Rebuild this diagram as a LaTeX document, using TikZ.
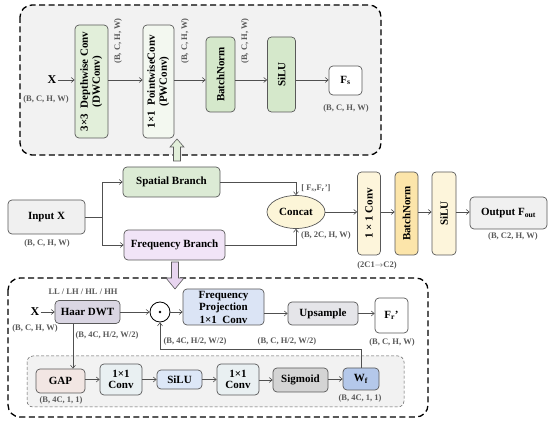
\documentclass[tikz,border=0pt]{standalone}
\usepackage{fontspec}
\usepackage{graphicx}
\setmainfont{Liberation Serif}
\usetikzlibrary{arrows.meta,shapes.geometric,calc}
\definecolor{bdr}{HTML}{595959}
\definecolor{arrc}{HTML}{505050}
\definecolor{lblc}{HTML}{595959}
\definecolor{topbg}{HTML}{F2F2F2}
\definecolor{dwc}{HTML}{E2EFDA}
\definecolor{pwc}{HTML}{F3F8F0}
\definecolor{grn}{HTML}{D5E8CB}
\definecolor{grayc}{HTML}{F0F0F0}
\definecolor{sbc}{HTML}{DCEBD5}
\definecolor{fbc}{HTML}{F1E4F7}
\definecolor{concatc}{HTML}{FCF5D8}
\definecolor{ylw}{HTML}{FDF5DB}
\definecolor{ylwd}{HTML}{FCE5AA}
\definecolor{haarc}{HTML}{DAD6E3}
\definecolor{fpc}{HTML}{DBE4F5}
\definecolor{upc}{HTML}{E5E5E9}
\definecolor{gapc}{HTML}{F2E6E3}
\definecolor{convc}{HTML}{E9F0F2}
\definecolor{siluc}{HTML}{DDE7F7}
\definecolor{sigc}{HTML}{D4D4D4}
\definecolor{wfc}{HTML}{B4C8EA}
\definecolor{hgrn}{HTML}{E2EFDA}
\definecolor{hpur}{HTML}{E8D5F0}
\tikzset{
  box/.style={draw=bdr, line width=0.7pt, rounded corners=4pt, inner sep=1pt, align=center,
    font=\fontsize{11}{12}\selectfont\bfseries},
  lbl/.style={font=\fontsize{8.5}{9}\selectfont\bfseries, text=lblc, inner sep=0pt},
  arr/.style={draw=arrc, line width=0.6pt, -{Straight Barb[length=3pt,width=5pt]}},
  ln/.style={draw=arrc, line width=0.6pt},
  bigdash/.style={draw=black, line width=1.3pt, dash pattern=on 6pt off 3.5pt, rounded corners=12pt},
  smalldash/.style={draw=bdr, line width=0.5pt, dash pattern=on 3pt off 2pt, rounded corners=6pt},
  hollow/.style={draw=bdr, line width=0.6pt}
}
\begin{document}
\begin{tikzpicture}[x=1pt,y=-1pt]
\useasboundingbox (0,0) rectangle (550,422);

% ---------- top dashed panel ----------
\draw[bigdash, fill=topbg] (20,5) rectangle (381,155);
\node[font=\fontsize{12}{12}\selectfont\bfseries, inner sep=1pt] (xt) at (52,80) {X};
\node[lbl] (lxt) at (46,99) {(B, C, H, W)};
\node[box, fill=dwc, minimum width=33pt, minimum height=113pt, inner sep=0pt] (dw) at (91.5,81.5)
  {\rotatebox{90}{\begin{tabular}{@{}c@{}}3×3\enspace Depthwise Conv\\(DWConv)\end{tabular}}};
\node[box, fill=pwc, minimum width=31pt, minimum height=113pt, inner sep=0pt] (pw) at (158.5,81.5)
  {\rotatebox{90}{\begin{tabular}{@{}c@{}}1×1\enspace PointwiseConv\\(PWConv)\end{tabular}}};
\node[box, fill=grn, minimum width=29pt, minimum height=75pt, inner sep=0pt] (bn1) at (220.5,74.5)
  {\rotatebox{90}{BatchNorm}};
\node[box, fill=grn, minimum width=28pt, minimum height=75pt, inner sep=0pt] (si1) at (281.5,74.5)
  {\rotatebox{90}{SiLU}};
\node[box, fill=white, minimum width=33pt, minimum height=29pt] (fs) at (345.5,80.5) {F\textsubscript{s}};
\node[lbl] (lfs) at (346,108) {(B, C, H, W)};
\node[lbl] (r1) at (118,41) {\rotatebox{90}{(B, C, H, W)}};
\node[lbl] (r2) at (185,41) {\rotatebox{90}{(B, C, H, W)}};
\node[lbl] (r3) at (245,41) {\rotatebox{90}{(B, C, H, W)}};
\draw[arr] (xt.east) -- (xt.east -| dw.west);
\draw[arr] (dw.east |- xt.east) -- (pw.west |- xt.east);
\draw[arr] (pw.east |- xt.east) -- (bn1.west |- xt.east);
\draw[arr] (bn1.east |- xt.east) -- (si1.west |- xt.east);
\draw[arr] (si1.east |- xt.east) -- (fs.west |- xt.east);
% hollow up arrow
\draw[hollow, fill=hgrn] (173.5,161) -- (173.5,147) -- (170,147) -- (177,139) -- (184,147) -- (180.5,147) -- (180.5,161) -- cycle;

% ---------- middle row ----------
\node[box, fill=grayc, minimum width=77pt, minimum height=34pt] (inp) at (46.5,217) {Input X};
\node[lbl] (linp) at (47,243) {(B, C, H, W)};
\node[box, fill=sbc, minimum width=97pt, minimum height=30pt] (sb) at (171.5,182) {Spatial Branch};
\node[box, fill=fbc, minimum width=101pt, minimum height=30pt] (fb) at (174.5,245) {Frequency Branch};
\coordinate (split) at (102,217);
\draw[ln] (inp.east) -- (split);
\draw[arr] (split) |- (sb.west);
\draw[arr] (split) |- (fb.west);
\node[ellipse, draw=bdr, line width=0.7pt, fill=concatc, minimum width=58pt, minimum height=33pt, inner sep=0pt,
  font=\fontsize{11}{12}\selectfont\bfseries] (concat) at (296,212) {Concat};
\draw[arr] (sb.east) -| (concat.north);
\draw[arr] (fb.east) -| (concat.south);
\node[lbl] (lcat1) at (316,188) {[ F\textsubscript{s},F\textsubscript{r}']};
\node[lbl] (lcat2) at (326,235) {(B, 2C, H, W)};
\node[box, fill=ylw, minimum width=23pt, minimum height=83pt, inner sep=0pt] (c11) at (369,213.5) {\rotatebox{90}{1 × 1 Conv}};
\node[box, fill=ylwd, minimum width=23pt, minimum height=83pt, inner sep=0pt] (bn2) at (406.5,213.5) {\rotatebox{90}{BatchNorm}};
\node[box, fill=ylw, minimum width=24pt, minimum height=83pt, inner sep=0pt] (si2) at (444,213.5) {\rotatebox{90}{SiLU}};
\node[box, fill=grayc, minimum width=77pt, minimum height=32pt] (out) at (508.5,213) {Output F\textsubscript{out}};
\node[lbl] (lc11) at (377,265) {(2C1$\rightarrow$C2)};
\node[lbl] (lout) at (513,236) {(B, C2, H, W)};
\draw[arr] (concat.east) -- (concat.east -| c11.west);
\draw[arr] (c11.east |- concat.east) -- (bn2.west |- concat.east);
\draw[arr] (bn2.east |- concat.east) -- (si2.west |- concat.east);
\draw[arr] (si2.east |- concat.east) -- (out.west |- concat.east);

% ---------- bottom dashed panel ----------
\draw[bigdash, fill=white] (8,278) rectangle (428,417);
\draw[hollow, fill=hpur] (171.5,262) -- (171.5,278) -- (166,278) -- (175,289) -- (184,278) -- (178.5,278) -- (178.5,262) -- cycle;
\node[lbl] (lll) at (83,292) {LL / LH / HL / HH};
\node[font=\fontsize{12}{12}\selectfont\bfseries, inner sep=1pt] (xb) at (35,312) {X};
\node[box, fill=haarc, minimum width=65pt, minimum height=23pt] (haar) at (87.5,312) {Haar DWT};
\node[lbl] (lxb) at (35,328) {(B, C, H, W)};
\node[lbl] (lhaar) at (107,335) {(B, 4C, H/2, W/2)};
\node[circle, draw=black, line width=0.8pt, fill=white, minimum size=20pt, inner sep=0pt] (od) at (160,312) {};
\fill (od.center) circle (1.4pt);
\node[box, fill=fpc, minimum width=81pt, minimum height=36pt, font=\fontsize{11}{12.5}\selectfont\bfseries] (fp) at (223.5,307)
  {Frequency\\Projection\\1×1\enspace Conv};
\node[box, fill=upc, minimum width=70pt, minimum height=23pt] (up) at (323,313.5) {Upsample};
\node[box, fill=white, minimum width=33pt, minimum height=35pt] (fr) at (391.5,315.5) {F\textsubscript{r}'};
\node[lbl] (lod) at (195,341) {(B, 4C, H/2, W/2)};
\node[lbl] (lfp) at (287,341) {(B, C, H/2, W/2)};
\node[lbl] (lfr) at (392,342) {(B, C, H, W)};
\draw[arr] (xb.east) -- (xb.east -| haar.west);
\draw[arr] (haar.east) -- (od.west);
\draw[arr] (od.east) -- (od.east -| fp.west);
\draw[arr] (fp.east |- up.west) -- (up.west);
\draw[arr] (up.east) -- (up.east -| fr.west);

% inner dashed panel
\draw[smalldash, fill=topbg] (27,356) rectangle (404,407);
\node[box, fill=gapc, minimum width=49pt, minimum height=24pt] (gap) at (60.5,381) {GAP};
\node[box, fill=convc, minimum width=42pt, minimum height=31pt, font=\fontsize{11}{11.5}\selectfont\bfseries] (cv1) at (121,379.5) {1×1\\Conv};
\node[box, fill=siluc, minimum width=45pt, minimum height=19pt] (si3) at (179.5,379.5) {SiLU};
\node[box, fill=convc, minimum width=42pt, minimum height=31pt, font=\fontsize{11}{11.5}\selectfont\bfseries] (cv2) at (238,379.5) {1×1\\Conv};
\node[box, fill=sigc, minimum width=55pt, minimum height=24pt] (sig) at (300.5,380) {Sigmoid};
\node[box, fill=wfc, minimum width=36pt, minimum height=22pt] (wf) at (361,379) {W\textsubscript{f}};
\node[lbl] (lgap) at (61,400) {(B, 4C, 1, 1)};
\node[lbl] (lwf) at (360,398) {(B, 4C, 1, 1)};
\coordinate (hb) at (73,312);
\draw[arr] (hb |- haar.south) -- (hb |- gap.north);
\draw[arr] (gap.east |- cv1.west) -- (cv1.west);
\draw[arr] (cv1.east) -- (si3.west);
\draw[arr] (si3.east) -- (cv2.west);
\draw[arr] (cv2.east |- sig.west) -- (sig.west);
\draw[arr] (sig.east |- wf.west) -- (wf.west);
\coordinate (fbk) at (0,349);
\draw[arr] (wf.north) -- (wf.north |- fbk) -| (od.south);
\end{tikzpicture}
\end{document}
